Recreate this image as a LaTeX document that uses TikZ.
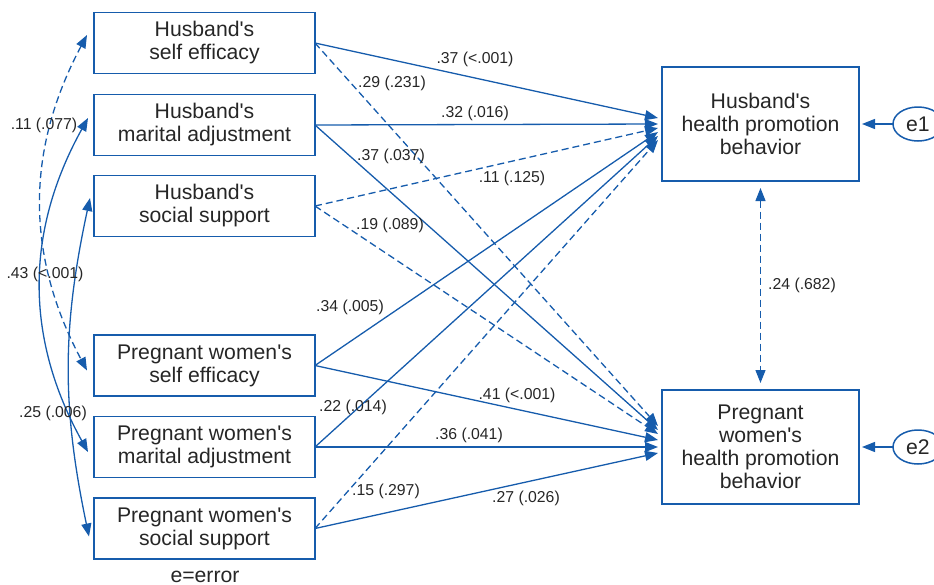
\documentclass[tikz,border=0pt]{standalone}
\usepackage{fontspec}
\setmainfont{Liberation Sans}
\usetikzlibrary{arrows.meta,shapes.geometric}
\definecolor{pathblue}{RGB}{22,92,172}
\newcommand{\ap}{\textquotesingle}
\tikzset{
    varnode/.style = {
        align=center,
        rectangle,
        draw=pathblue,
        line width=0.75pt,
        text=black!85,
        font=\fontsize{10.6}{11.5}\selectfont,
        minimum width=110.5pt,
        minimum height=30.5pt,
        inner sep=0pt,
        outer sep=0pt
    },
    outnode/.style = {
        varnode,
        minimum width=98.5pt,
        minimum height=57pt
    },
    errnode/.style = {
        varnode,
        ellipse,
        minimum width=25pt,
        minimum height=17pt
    },
    coef/.style = {
        font=\fontsize{7.9}{9}\selectfont,
        text=black!85,
        inner sep=0pt
    },
    effect/.style = {
        draw=pathblue,
        line width=0.65pt,
        -{Triangle[length=6.5pt,width=5pt]}
    },
    corr/.style = {
        effect,
        {Triangle[length=6.5pt,width=5pt]}-{Triangle[length=6.5pt,width=5pt]}
    },
    nonsig/.style = {
        dash pattern=on 3.5pt off 2pt
    }
}
\begin{document}
\begin{tikzpicture}[x=0.5pt,y=-0.5pt]
    \useasboundingbox (0,0) rectangle (934,585);
    % predictors
    \node [varnode] (hse) at (204.5,43)    {Husband\ap s\\self efficacy};
    \node [varnode] (hma) at (204.5,125)   {Husband\ap s\\marital adjustment};
    \node [varnode] (hss) at (204.5,206)   {Husband\ap s\\social support};
    \node [varnode] (pse) at (204.5,365.5) {Pregnant women\ap s\\self efficacy};
    \node [varnode] (pma) at (204.5,447)   {Pregnant women\ap s\\marital adjustment};
    \node [varnode] (pss) at (204.5,528.5) {Pregnant women\ap s\\social support};
    % outcomes
    \node [outnode] (hhpb) at (760.5,124) {Husband\ap s\\health promotion\\behavior};
    \node [outnode] (phpb) at (760.5,447) {Pregnant\\women\ap s\\health promotion\\behavior};
    \node [errnode] (e1) at (918,124) {e1};
    \node [errnode] (e2) at (918,447) {e2};
    \node [varnode, draw=none] (note) at (205,577) {e=error};

    % covariances between predictors
    \draw [corr, nonsig] ([shift={(-7,-8)}]hse.west) to[bend right=28] ([shift={(-7,5)}]pse.west);
    \draw [corr] ([shift={(-6,-7)}]hma.west) to[bend right=29] ([shift={(-6,5)}]pma.west);
    \draw [corr] ([shift={(-4,-8)}]hss.west) to[bend right=12] ([shift={(-5,8)}]pss.west);
    \node [coef] (c1) at (44,125) {.11 (.077)};
    \node [coef] (c2) at (45,274) {.43 (<.001)};
    \node [coef] (c3) at (53,413) {.25 (.006)};

    % paths to husband's behavior
    \draw [effect]         (hse.east) -- ([shift={(-4,-6)}]hhpb.west);
    \draw [effect]         (hma.east) -- ([shift={(-4,0)}]hhpb.west);
    \draw [effect, nonsig] (hss.east) -- ([shift={(-4,4)}]hhpb.west);
    \draw [effect]         (pse.east) -- ([shift={(-4,8)}]hhpb.west);
    \draw [effect]         (pma.east) -- ([shift={(-4,12)}]hhpb.west);
    \draw [effect, nonsig] (pss.east) -- ([shift={(-4,16)}]hhpb.west);
    % paths to pregnant women's behavior
    \draw [effect, nonsig] (hse.east) -- ([shift={(-4,-21)}]phpb.west);
    \draw [effect]         (hma.east) -- ([shift={(-4,-17)}]phpb.west);
    \draw [effect, nonsig] (hss.east) -- ([shift={(-4,-13)}]phpb.west);
    \draw [effect]         (pse.east) -- ([shift={(-4,-7)}]phpb.west);
    \draw [effect]         (pma.east) -- ([shift={(-4,0)}]phpb.west);
    \draw [effect]         (pss.east) -- ([shift={(-4,6)}]phpb.west);

    \node [coef] (h1) at (475,59)  {.37 (<.001)};
    \node [coef] (p1) at (392,83)  {.29 (.231)};
    \node [coef] (h2) at (475,113) {.32 (.016)};
    \node [coef] (p2) at (391,156) {.37 (.037)};
    \node [coef] (h3) at (512,178) {.11 (.125)};
    \node [coef] (p3) at (390,225) {.19 (.089)};
    \node [coef] (h4) at (350,307) {.34 (.005)};
    \node [coef] (p4) at (517,395) {.41 (<.001)};
    \node [coef] (h5) at (353,407) {.22 (.014)};
    \node [coef] (p5) at (469,435) {.36 (.041)};
    \node [coef] (h6) at (386,491) {.15 (.297)};
    \node [coef] (p6) at (526,498) {.27 (.026)};

    % residuals
    \draw [effect] (e1) -- ([xshift=1.5pt]hhpb.east);
    \draw [effect] (e2) -- ([xshift=1.5pt]phpb.east);
    \draw [corr, nonsig, shorten <=3.5pt, shorten >=3.5pt] (hhpb.south) -- (phpb.north);
    \node [coef] (r1) at (802,285) {.24 (.682)};
\end{tikzpicture}
\end{document}
